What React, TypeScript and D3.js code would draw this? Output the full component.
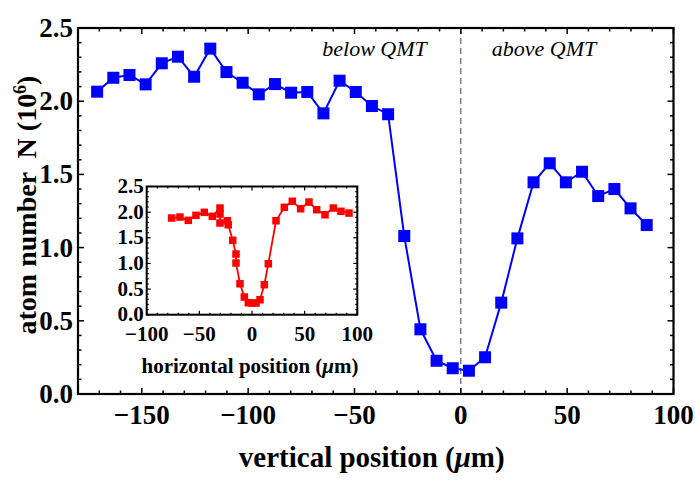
import React from "react";
import * as d3 from "d3";

const mainX = [-171, -163.4, -155.8, -148.2, -140.6, -133, -125.4, -117.8, -110.2, -102.6, -95, -87.4, -79.8, -72.2, -64.6, -57, -49.4, -41.8, -34.2, -26.6, -19, -11.4, -3.8, 3.8, 11.4, 19, 26.6, 34.2, 41.8, 49.4, 57, 64.6, 72.2, 79.8, 87.4];
const mainY = [2.065, 2.16, 2.179, 2.115, 2.259, 2.304, 2.167, 2.359, 2.199, 2.126, 2.047, 2.117, 2.058, 2.063, 1.917, 2.14, 2.063, 1.967, 1.911, 1.079, 0.442, 0.227, 0.176, 0.159, 0.251, 0.624, 1.063, 1.446, 1.576, 1.446, 1.518, 1.352, 1.4, 1.268, 1.154];

const insetX = [-76.3, -68.4, -60.5, -53.2, -45.3, -37.7, -30.4, -30.4, -30.4, -23.5, -22.6, -18.3, -15.2, -15.2, -11.4, -7.3, -3.5, 0, 3.8, 7.6, 11.7, 15.5, 22.8, 30.7, 38.3, 46.2, 54.1, 61.4, 69.3, 77.2, 84.5, 92.1];
const insetY = [1.885, 1.904, 1.84, 1.938, 1.996, 1.918, 2.08, 1.963, 1.788, 1.832, 1.754, 1.45, 1.183, 1.008, 0.604, 0.345, 0.234, 0.228, 0.228, 0.292, 0.585, 0.994, 1.832, 2.094, 2.211, 2.066, 2.197, 2.047, 1.949, 2.08, 2.016, 1.982];

const mainXTicks = [-150, -100, -50, 0, 50, 100];
const mainYTicks = [0, 0.5, 1, 1.5, 2, 2.5];
const insetXTicks = [-100, -50, 0, 50, 100];
const insetYTicks = [0, 0.5, 1, 1.5, 2, 2.5];

const SERIF = "'Liberation Serif', 'Times New Roman', serif";

function fmtNum(v: number, dec: number) {
  const s = Math.abs(v).toFixed(dec);
  return v < 0 ? "\u2212" + s : s;
}

export default function App() {
  const W = 695, H = 486;
  const x = d3.scaleLinear().domain([-180, 100]).range([78, 673.5]);
  const y = d3.scaleLinear().domain([0, 2.5]).range([394, 28]);
  const ix = d3.scaleLinear().domain([-100, 100]).range([146.7, 357.3]);
  const iy = d3.scaleLinear().domain([0, 2.5]).range([314.7, 186.5]);

  const mainPts = mainX.map((v, i) => [v, mainY[i]] as [number, number]);
  const insetPts = insetX.map((v, i) => [v, insetY[i]] as [number, number]);

  const line = d3.line<[number, number]>().x(d => x(d[0])).y(d => y(d[1]));
  const iline = d3.line<[number, number]>().x(d => ix(d[0])).y(d => iy(d[1]));

  const xMinor = d3.range(-180, 100.01, 10);
  const yMinor = d3.range(0, 2.501, 0.1);
  const ixMinor = d3.range(-100, 100.01, 10);
  const iyMinor = d3.range(0, 2.501, 0.1);

  const isMajor = (v: number, step: number) => Math.abs(v / step - Math.round(v / step)) < 1e-6;

  const [x0, x1] = x.range();
  const [y0, y1] = y.range();
  const [ix0, ix1] = ix.range();
  const [iy0, iy1] = iy.range();

  const ms = 12;
  const ims = 7.5;

  return (
    <svg width={W} height={H} style={{ position: "absolute", left: 0, top: 0, background: "#fff" }} fontFamily={SERIF}>
      <rect x={0} y={0} width={W} height={H} fill="#fff" />
      {/* dashed line at 0 */}
      <line x1={x(0)} x2={x(0)} y1={y1} y2={y0} stroke="#444" strokeWidth={1} strokeDasharray="6,4" />
      {/* main ticks */}
      {xMinor.map((v, i) => {
        const len = isMajor(v, 50) ? 6 : 3.5;
        return (
          <g key={"xt" + i}>
            <line x1={x(v)} x2={x(v)} y1={y0} y2={y0 - len} stroke="#000" strokeWidth={1.5} />
            <line x1={x(v)} x2={x(v)} y1={y1} y2={y1 + len} stroke="#000" strokeWidth={1.5} />
          </g>
        );
      })}
      {yMinor.map((v, i) => {
        const len = isMajor(v, 0.5) ? 6 : 3.5;
        return (
          <g key={"yt" + i}>
            <line x1={x0} x2={x0 + len} y1={y(v)} y2={y(v)} stroke="#000" strokeWidth={1.5} />
            <line x1={x1} x2={x1 - len} y1={y(v)} y2={y(v)} stroke="#000" strokeWidth={1.5} />
          </g>
        );
      })}
      {/* main data */}
      <path d={line(mainPts) || ""} fill="none" stroke="#0000ff" strokeWidth={2} />
      {mainPts.map((d, i) => (
        <rect key={"m" + i} x={x(d[0]) - ms / 2} y={y(d[1]) - ms / 2} width={ms} height={ms} fill="#0000ff" />
      ))}
      {/* frame */}
      <rect x={x0} y={y1} width={x1 - x0} height={y0 - y1} fill="none" stroke="#000" strokeWidth={2.2} />
      {/* tick labels */}
      {mainXTicks.map(v => (
        <text key={"xl" + v} x={x(v)} y={y0 + 30} textAnchor="middle" fontSize={27} fontWeight="bold">{fmtNum(v, 0)}</text>
      ))}
      {mainYTicks.map(v => (
        <text key={"yl" + v} x={x0 - 5} y={y(v) + 9} textAnchor="end" fontSize={27} fontWeight="bold">{v.toFixed(1)}</text>
      ))}
      {/* annotations */}
      <text x={x(0) - 34} y={56} textAnchor="end" fontSize={22} fontStyle="italic">below QMT</text>
      <text x={x(0) + 31} y={56} textAnchor="start" fontSize={22} fontStyle="italic">above QMT</text>
      {/* axis labels */}
      <text x={(x0 + x1) / 2 - 4} y={467} textAnchor="middle" fontSize={29} fontWeight="bold">
        vertical position (<tspan fontStyle="italic">μ</tspan>m)
      </text>
      <text transform={`translate(36,${(y0 + y1) / 2 - 6}) rotate(-90)`} textAnchor="middle" fontSize={28} fontWeight="bold" xmlSpace="preserve">
        {"atom number  N (10"}<tspan dy={-10} fontSize={18}>6</tspan><tspan dy={10}>)</tspan>
      </text>

      {/* inset */}
      <rect x={ix0} y={iy1} width={ix1 - ix0} height={iy0 - iy1} fill="#fff" />
      {ixMinor.map((v, i) => {
        const len = isMajor(v, 50) ? 4 : 2;
        return (
          <g key={"ixt" + i}>
            <line x1={ix(v)} x2={ix(v)} y1={iy0} y2={iy0 - len} stroke="#000" strokeWidth={1.2} />
            <line x1={ix(v)} x2={ix(v)} y1={iy1} y2={iy1 + len} stroke="#000" strokeWidth={1.2} />
          </g>
        );
      })}
      {iyMinor.map((v, i) => {
        const len = isMajor(v, 0.5) ? 4 : 2;
        return (
          <g key={"iyt" + i}>
            <line x1={ix0} x2={ix0 + len} y1={iy(v)} y2={iy(v)} stroke="#000" strokeWidth={1.2} />
            <line x1={ix1} x2={ix1 - len} y1={iy(v)} y2={iy(v)} stroke="#000" strokeWidth={1.2} />
          </g>
        );
      })}
      <path d={iline(insetPts) || ""} fill="none" stroke="#ff0000" strokeWidth={1.8} />
      {insetPts.map((d, i) => (
        <rect key={"i" + i} x={ix(d[0]) - ims / 2} y={iy(d[1]) - ims / 2} width={ims} height={ims} fill="#ff0000" />
      ))}
      <rect x={ix0} y={iy1} width={ix1 - ix0} height={iy0 - iy1} fill="none" stroke="#000" strokeWidth={2} />
      {insetXTicks.map(v => (
        <text key={"ixl" + v} x={ix(v)} y={iy0 + 26} textAnchor="middle" fontSize={21} fontWeight="bold">{fmtNum(v, 0)}</text>
      ))}
      {insetYTicks.map(v => (
        <text key={"iyl" + v} x={ix0 - 3} y={iy(v) + 6.5} textAnchor="end" fontSize={21} fontWeight="bold">{v.toFixed(1)}</text>
      ))}
      <text x={(ix0 + ix1) / 2 - 2} y={373} textAnchor="middle" fontSize={21} fontWeight="bold">
        horizontal position (<tspan fontStyle="italic">μ</tspan>m)
      </text>
    </svg>
  );
}
